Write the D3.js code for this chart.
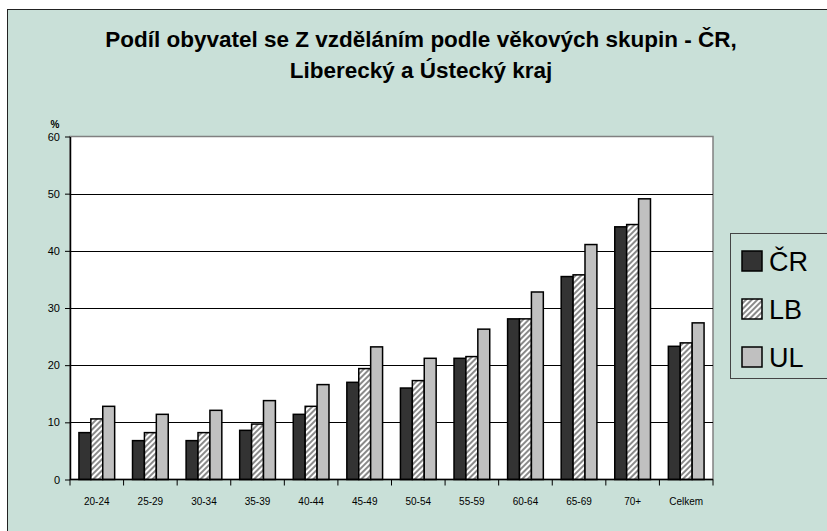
<!DOCTYPE html>
<html lang="cs">
<head>
<meta charset="UTF-8">
<title>Podíl obyvatel se Z vzděláním</title>
<script src="https://cdn.jsdelivr.net/npm/d3@7"></script>
<style>
body {
	margin: 0;
	background: #fff;
	font-family: "Liberation Sans", Arial, sans-serif;
}
svg { display: block; }
.grid line { stroke: #000; stroke-width: 1px; }
.axis text { font-family: "Liberation Sans", Arial, sans-serif; fill: #000; }
</style>
</head>
<body>
<svg width="827" height="531"></svg>
<script>
var categories = ["20-24", "25-29", "30-34", "35-39", "40-44", "45-49", "50-54", "55-59", "60-64", "65-69", "70+", "Celkem"];
var seriesNames = ["ČR", "LB", "UL"];
var valuesCR = [8.2, 6.8, 6.8, 8.6, 11.4, 17.0, 16.0, 21.2, 28.1, 35.5, 44.2, 23.3];
var valuesLB = [10.6, 8.2, 8.2, 9.7, 12.8, 19.4, 17.3, 21.5, 28.1, 35.8, 44.6, 23.9];
var valuesUL = [12.8, 11.4, 12.1, 13.8, 16.6, 23.2, 21.2, 26.3, 32.8, 41.1, 49.1, 27.4];
var yTicks = [0, 10, 20, 30, 40, 50, 60];

var series = [valuesCR, valuesLB, valuesUL];

var svg = d3.select("svg");

// hatch pattern for LB
var defs = svg.append("defs");
var pat = defs.append("pattern")
	.attr("id", "hatch")
	.attr("patternUnits", "userSpaceOnUse")
	.attr("width", 4).attr("height", 4)
	.attr("patternTransform", "rotate(45)");
pat.append("rect").attr("width", 4).attr("height", 4).attr("fill", "#fff");
pat.append("rect").attr("width", 2).attr("height", 4).attr("fill", "#8a8a8a");

var fills = ["#333333", "url(#hatch)", "#c0c0c0"];

// chart background + border
svg.append("rect")
	.attr("x", 7.5).attr("y", 9.5)
	.attr("width", 840).attr("height", 540)
	.attr("fill", "#c9e0d8")
	.attr("stroke", "#222").attr("stroke-width", 1);

// title
var title = svg.append("text")
	.attr("text-anchor", "middle")
	.attr("font-weight", "bold")
	.attr("font-size", 22.5)
	.attr("fill", "#000");
title.append("tspan").attr("x", 421).attr("y", 47).text("Podíl obyvatel se Z vzděláním podle věkových skupin - ČR,");
title.append("tspan").attr("x", 421).attr("y", 78).text("Liberecký a Ústecký kraj");

var margin = {left: 70, top: 136.5, right: 713, bottom: 479.5};

var x = d3.scaleBand().domain(categories).range([margin.left, margin.right]);
var y = d3.scaleLinear().domain([0, 60]).range([margin.bottom, margin.top]);

var groupW = x.bandwidth() / 4.5 * 3;
var x1 = d3.scaleBand().domain(d3.range(3)).range([0, groupW]);

// plot area
svg.append("rect")
	.attr("x", margin.left).attr("y", margin.top)
	.attr("width", margin.right - margin.left).attr("height", margin.bottom - margin.top)
	.attr("fill", "#fff")
	.attr("stroke", "#808080").attr("stroke-width", 1.5);

// gridlines
svg.append("g").attr("class", "grid")
	.selectAll("line")
	.data(yTicks.filter(function(d) { return d > 0 && d < 60; }))
	.enter().append("line")
	.attr("x1", margin.left).attr("x2", margin.right)
	.attr("y1", function(d) { return Math.round(y(d)) + 0.5; })
	.attr("y2", function(d) { return Math.round(y(d)) + 0.5; });

// bars
var groups = svg.append("g").selectAll("g")
	.data(categories)
	.enter().append("g")
	.attr("transform", function(d) { return "translate(" + (x(d) + (x.bandwidth() - groupW) / 2) + ",0)"; });

groups.selectAll("rect")
	.data(function(d, i) { return series.map(function(s, k) { return {k: k, v: s[i]}; }); })
	.enter().append("rect")
	.attr("x", function(d) { return x1(d.k); })
	.attr("width", x1.bandwidth())
	.attr("y", function(d) { return y(d.v); })
	.attr("height", function(d) { return y(0) - y(d.v); })
	.attr("fill", function(d) { return fills[d.k]; })
	.attr("stroke", "#000")
	.attr("stroke-width", 1.5);

// y axis
var yAxis = svg.append("g")
	.attr("class", "axis")
	.attr("transform", "translate(" + margin.left + ",0)")
	.call(d3.axisLeft(y).tickValues(yTicks).tickSize(5).tickPadding(5).tickSizeOuter(0));
yAxis.selectAll("text").attr("font-size", 11);
yAxis.select(".domain").attr("stroke", "#000").attr("stroke-width", 1.5);

// x axis, ticks between categories
var xAxis = svg.append("g")
	.attr("class", "axis")
	.attr("transform", "translate(0," + margin.bottom + ")");
xAxis.append("line")
	.attr("x1", margin.left).attr("x2", margin.right)
	.attr("stroke", "#000").attr("stroke-width", 1.5);
xAxis.selectAll(".tk")
	.data(categories.concat([null]))
	.enter().append("line")
	.attr("class", "tk")
	.attr("x1", function(d, i) { return margin.left + i * x.step(); })
	.attr("x2", function(d, i) { return margin.left + i * x.step(); })
	.attr("y1", 0).attr("y2", 6)
	.attr("stroke", "#000");
xAxis.selectAll(".lbl")
	.data(categories)
	.enter().append("text")
	.attr("class", "lbl")
	.attr("x", function(d) { return x(d) + x.bandwidth() / 2; })
	.attr("y", 25)
	.attr("text-anchor", "middle")
	.attr("font-size", 10)
	.text(function(d) { return d; });

// unit label
svg.append("text")
	.attr("x", 55).attr("y", 128)
	.attr("text-anchor", "middle")
	.attr("font-size", 10)
	.attr("font-weight", "bold")
	.text("%");

// legend
var legend = svg.append("g");
legend.append("rect")
	.attr("x", 730.5).attr("y", 233.5)
	.attr("width", 120).attr("height", 145)
	.attr("fill", "none")
	.attr("stroke", "#444").attr("stroke-width", 1);

var items = legend.selectAll(".item")
	.data(seriesNames)
	.enter().append("g")
	.attr("class", "item")
	.attr("transform", function(d, i) { return "translate(0," + (261 + i * 48) + ")"; });
items.append("rect")
	.attr("x", 742).attr("y", -10)
	.attr("width", 20).attr("height", 20)
	.attr("fill", function(d, i) { return fills[i]; })
	.attr("stroke", "#000").attr("stroke-width", 1.5);
items.append("text")
	.attr("x", 769).attr("y", 10)
	.attr("font-size", 27)
	.text(function(d) { return d; });
</script>
</body>
</html>
